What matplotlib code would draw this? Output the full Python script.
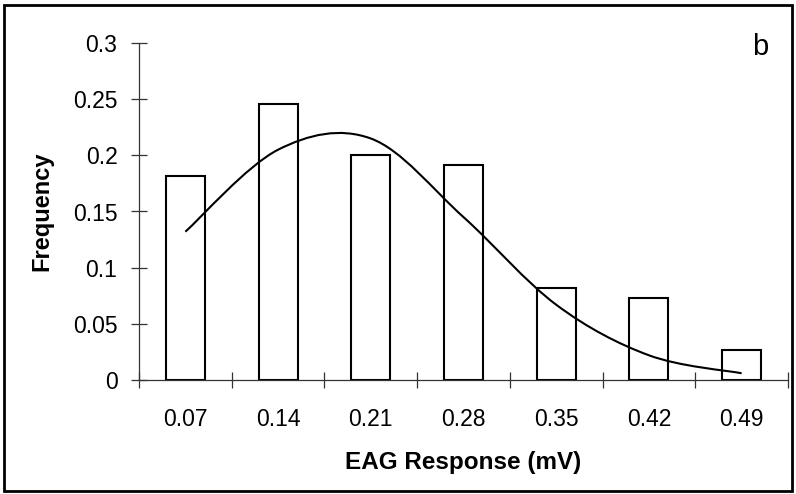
import numpy as np
import matplotlib
matplotlib.use("Agg")
import matplotlib.pyplot as plt
from matplotlib.path import Path
from matplotlib.patches import PathPatch, Rectangle

plt.rcParams['font.family'] = ['Liberation Sans', 'DejaVu Sans']

# data
categories = ['0.07', '0.14', '0.21', '0.28', '0.35', '0.42', '0.49']
frequency = [0.182, 0.246, 0.200, 0.191, 0.082, 0.073, 0.027]
fitted = [0.132, 0.205, 0.215, 0.145, 0.067, 0.022, 0.006]
yticks = [0, 0.05, 0.1, 0.15, 0.2, 0.25, 0.3]
ytick_labels = ['0', '0.05', '0.1', '0.15', '0.2', '0.25', '0.3']


def smooth_path(xs, ys, k=1/6.):
  # bezier through the points, like a spreadsheet "smoothed line"
  pts = np.column_stack([xs, ys]).astype(float)
  verts = [pts[0]]
  codes = [Path.MOVETO]
  n = len(pts)
  for i in range(n - 1):
    p0 = pts[i - 1] if i > 0 else pts[i]
    p1 = pts[i]
    p2 = pts[i + 1]
    p3 = pts[i + 2] if i + 2 < n else pts[i + 1]
    c1 = p1 + (p2 - p0) * k
    c2 = p2 - (p3 - p1) * k
    verts += [c1, c2, p2]
    codes += [Path.CURVE4] * 3
  return Path(verts, codes)


fig = plt.figure(figsize=(7.96, 4.94), dpi=100)
ax = fig.add_axes([139/796, 1 - 380/494, (788 - 139)/796, (380 - 43)/494])

x = np.arange(len(categories))
ax.bar(x, frequency, width=0.42, color='white', edgecolor='black', linewidth=1.5, zorder=2)

curve = PathPatch(smooth_path(x, fitted), facecolor='none', edgecolor='black', linewidth=1.5, zorder=3)
ax.add_patch(curve)

ax.set_xlim(-0.5, len(categories) - 0.5)
ax.set_ylim(0, 0.3)

for s in ['top', 'right']:
  ax.spines[s].set_visible(False)
for s in ['left', 'bottom']:
  ax.spines[s].set_linewidth(0.9)
  ax.spines[s].set_color('#333333')

ax.set_yticks(yticks)
ax.set_yticklabels(ytick_labels, fontsize=16.5)
ax.set_xticks(np.arange(len(categories) + 1) - 0.5)
ax.set_xticklabels([])
ax.set_xticks(x, minor=True)
ax.set_xticklabels(categories, minor=True, fontsize=16.5)
ax.tick_params(axis='x', which='minor', length=0, pad=20)
ax.tick_params(axis='both', which='major', direction='inout', length=11, width=0.9, color='#333333')
ax.tick_params(axis='y', which='major', pad=10)

ax.set_ylabel('Frequency', fontsize=17, fontweight='bold')
ax.set_xlabel('EAG Response (mV)', fontsize=17.5, fontweight='bold')
ax.yaxis.set_label_coords((53 - 139)/649, 0.5)
ax.xaxis.set_label_coords(0.5, (380 - 451)/337)

fig.text(760/796, 1 - 47/494, 'b', fontsize=21, ha='center', va='center')

# frame around the whole picture
fig.patches.append(Rectangle((4/796, 3/494), 788/796, 486/494, transform=fig.transFigure,
                             fill=False, edgecolor='black', linewidth=2))

plt.savefig('out.png', dpi=100)
